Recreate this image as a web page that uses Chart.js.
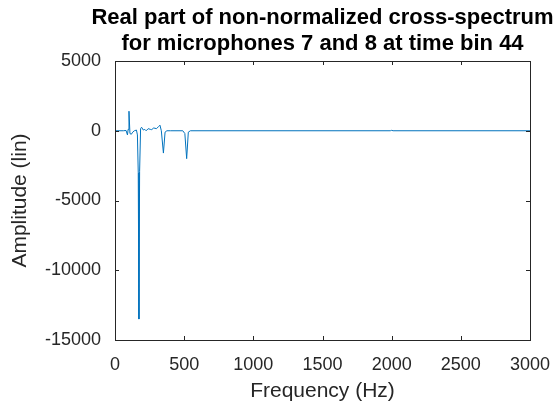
<!DOCTYPE html>
<html>
<head>
<meta charset="utf-8">
<script src="https://cdn.jsdelivr.net/npm/chart.js@4/dist/chart.umd.min.js"></script>
<style>
  html, body { margin: 0; padding: 0; background: #fff; }
  #wrap { width: 553px; height: 406px; }
</style>
</head>
<body>
<div id="wrap"><canvas id="myChart" width="553" height="406"></canvas></div>
<script>
// datos
const freqHz = [0, 60, 80, 90, 95, 101, 108, 118, 128, 140, 155, 162, 168, 173, 178, 185, 192,
  205, 215, 225, 240, 255, 265, 280, 300, 315, 325, 335, 350, 362, 375, 400, 490, 505, 518, 530, 545,
  1990, 2000, 2010, 3000];
const amplitud = [0, 0, 20, -300, 100, 1400, -200, -250, -100, 0, 50, -300, -3000, -13500, -2900, 150, 250,
  50, 100, 0, 150, 100, 80, 200, 150, 300, 400, 0, -1600, -100, 0, 0, 0, -200, -2000, -100, 0,
  0, 30, 0, 0];
const xTicks = [0, 500, 1000, 1500, 2000, 2500, 3000];
const yTicks = [-15000, -10000, -5000, 0, 5000];
const titulo = ['Real part of non-normalized cross-spectrum', 'for microphones 7 and 8 at time bin 44'];

const colorEje = '#262626';
const fuente = 'Liberation Sans, Arial, sans-serif';

// caja y ticks hacia dentro, estilo matlab
const cajaPlugin = {
  id: 'caja',
  afterDraw(chart) {
    const c = chart.ctx, a = chart.chartArea;
    const sx = chart.scales.x, sy = chart.scales.y;
    c.save();
    c.strokeStyle = colorEje;
    c.lineWidth = 1;
    c.strokeRect(Math.round(a.left) + 0.5, Math.round(a.top) + 0.5,
      Math.round(a.right - a.left), Math.round(a.bottom - a.top));
    c.beginPath();
    xTicks.forEach(v => {
      const px = Math.round(sx.getPixelForValue(v)) + 0.5;
      c.moveTo(px, a.bottom); c.lineTo(px, a.bottom - 4);
      c.moveTo(px, a.top); c.lineTo(px, a.top + 4);
    });
    yTicks.forEach(v => {
      const py = Math.round(sy.getPixelForValue(v)) + 0.5;
      c.moveTo(a.left, py); c.lineTo(a.left + 4, py);
      c.moveTo(a.right, py); c.lineTo(a.right - 4, py);
    });
    c.stroke();
    // titulo centrado sobre el area del grafico
    c.fillStyle = '#000';
    c.font = 'bold 22px ' + fuente;
    c.textAlign = 'center';
    c.textBaseline = 'alphabetic';
    const cx = (a.left + a.right) / 2;
    c.fillText(titulo[0], cx, 24);
    c.fillText(titulo[1], cx, 50);
    c.restore();
  }
};

const ctx = document.getElementById('myChart');
new Chart(ctx, {
  type: 'line',
  data: {
    datasets: [{
      data: freqHz.map((f, i) => ({ x: f, y: amplitud[i] })),
      borderColor: '#0072BD',
      borderWidth: 1,
      pointRadius: 0,
      tension: 0,
      fill: false
    }]
  },
  options: {
    responsive: false,
    animation: false,
    devicePixelRatio: 1,
    layout: { padding: { top: 61, right: 0, left: 0, bottom: 0 } },
    plugins: { legend: { display: false }, tooltip: { enabled: false }, title: { display: false } },
    scales: {
      x: {
        type: 'linear', min: 0, max: 3000,
        afterFit: s => { s.height = 66; s.paddingRight = 23; s.paddingLeft = 0; },
        afterBuildTicks: s => { s.ticks = xTicks.map(v => ({ value: v })); },
        grid: { display: false },
        border: { display: false },
        ticks: { color: colorEje, font: { family: fuente, size: 18 }, padding: 6, maxRotation: 0,
          callback: v => String(v) },
        title: { display: true, text: 'Frequency (Hz)', color: colorEje,
          font: { family: fuente, size: 21 }, padding: { top: 2, bottom: 2 } }
      },
      y: {
        type: 'linear', min: -15000, max: 5000,
        afterFit: s => { s.width = 115; },
        afterBuildTicks: s => { s.ticks = yTicks.map(v => ({ value: v })); },
        grid: { display: false },
        border: { display: false },
        ticks: { color: colorEje, font: { family: fuente, size: 18 }, padding: 6,
          callback: v => String(v) },
        title: { display: true, text: 'Amplitude (lin)', color: colorEje,
          font: { family: fuente, size: 21 }, padding: { top: 8, bottom: 8 } }
      }
    }
  },
  plugins: [cajaPlugin]
});
</script>
</body>
</html>
